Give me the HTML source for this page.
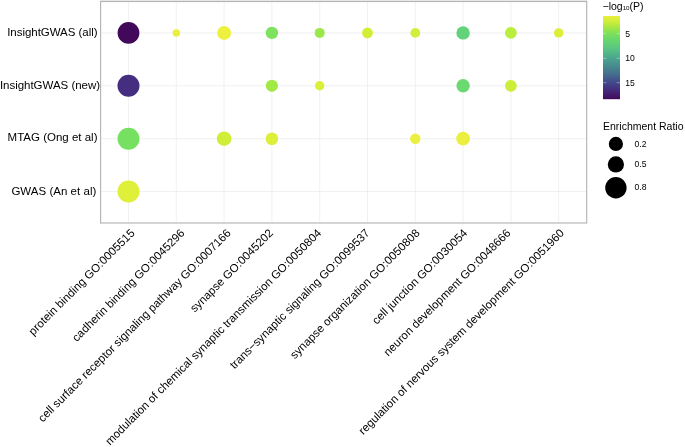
<!DOCTYPE html>
<html lang="en">
<head>
<meta charset="utf-8">
<title>GO enrichment dot plot</title>
<style>
html,body{margin:0;padding:0;background:#fff;}
body{width:685px;height:447px;overflow:hidden;}
svg{display:block;}
text{font-family:"Liberation Sans",Arial,Helvetica,sans-serif;fill:#000;}
.grid line{stroke:#ebebeb;stroke-width:0.7;}
.ylab text{font-size:11.5px;text-anchor:end;}
.xlab text{font-size:11.5px;text-anchor:end;}
.leg text{font-size:8.6px;}
.leg .ttl{font-size:10.5px;}
</style>
</head>
<body>
<svg width="685" height="447" viewBox="0 0 685 447">
<rect x="0" y="0" width="685" height="447" fill="#ffffff"/>
<g class="grid">
<line x1="128.5" y1="1.5" x2="128.5" y2="223.0"/>
<line x1="176.3" y1="1.5" x2="176.3" y2="223.0"/>
<line x1="224.1" y1="1.5" x2="224.1" y2="223.0"/>
<line x1="271.9" y1="1.5" x2="271.9" y2="223.0"/>
<line x1="319.7" y1="1.5" x2="319.7" y2="223.0"/>
<line x1="367.5" y1="1.5" x2="367.5" y2="223.0"/>
<line x1="415.3" y1="1.5" x2="415.3" y2="223.0"/>
<line x1="463.1" y1="1.5" x2="463.1" y2="223.0"/>
<line x1="510.9" y1="1.5" x2="510.9" y2="223.0"/>
<line x1="558.7" y1="1.5" x2="558.7" y2="223.0"/>
<line x1="100.6" y1="32.9" x2="586.7" y2="32.9"/>
<line x1="100.6" y1="85.8" x2="586.7" y2="85.8"/>
<line x1="100.6" y1="138.7" x2="586.7" y2="138.7"/>
<line x1="100.6" y1="191.5" x2="586.7" y2="191.5"/>
</g>
<rect x="100.6" y="1.5" width="486.1" height="221.5" fill="none" stroke="#b4b4b4" stroke-width="1.15"/>
<rect x="100.1" y="0" width="487.1" height="1" fill="#e6e6e6"/>
<g class="pts">
<circle cx="128.5" cy="32.9" r="10.9" fill="#42085a"/>
<circle cx="176.3" cy="32.9" r="3.7" fill="#eaee3c"/>
<circle cx="224.1" cy="32.9" r="7.0" fill="#eef040"/>
<circle cx="271.9" cy="32.9" r="6.2" fill="#7ce25f"/>
<circle cx="319.7" cy="32.9" r="5.0" fill="#9be84a"/>
<circle cx="367.5" cy="32.9" r="5.4" fill="#d4ee38"/>
<circle cx="415.3" cy="32.9" r="4.9" fill="#d2ee3a"/>
<circle cx="463.1" cy="32.9" r="6.7" fill="#62d37b"/>
<circle cx="510.9" cy="32.9" r="5.9" fill="#b9ee3e"/>
<circle cx="558.7" cy="32.9" r="4.7" fill="#dbee38"/>
<circle cx="128.5" cy="85.8" r="11.0" fill="#452d80"/>
<circle cx="271.9" cy="85.8" r="6.1" fill="#a3e945"/>
<circle cx="319.7" cy="85.8" r="4.7" fill="#dbee38"/>
<circle cx="463.1" cy="85.8" r="6.7" fill="#6bd972"/>
<circle cx="510.9" cy="85.8" r="5.9" fill="#cbee38"/>
<circle cx="128.5" cy="138.7" r="11.0" fill="#76e060"/>
<circle cx="224.1" cy="138.7" r="7.3" fill="#cfee38"/>
<circle cx="271.9" cy="138.7" r="6.3" fill="#dcef3a"/>
<circle cx="415.3" cy="138.7" r="5.2" fill="#ebf040"/>
<circle cx="463.1" cy="138.7" r="6.9" fill="#ebf040"/>
<circle cx="128.5" cy="191.5" r="11.0" fill="#dff03a"/>
</g>
<g class="ylab">
<text x="97.5" y="35.9" textLength="90.3" lengthAdjust="spacing">InsightGWAS (all)</text>
<text x="100.1" y="88.7" textLength="100.2" lengthAdjust="spacing">InsightGWAS (new)</text>
<text x="97.5" y="141.2" textLength="89.9" lengthAdjust="spacing">MTAG (Ong et al)</text>
<text x="96.3" y="194.5" textLength="84.9" lengthAdjust="spacing">GWAS (An et al)</text>
</g>
<g class="xlab">
<text transform="translate(135.4 233.7) rotate(-45)">protein binding GO:0005515</text>
<text transform="translate(185.3 233.7) rotate(-45)">cadherin binding GO:0045296</text>
<text transform="translate(231.6 233.7) rotate(-45)">cell surface receptor signaling pathway GO:0007166</text>
<text transform="translate(273.9 233.7) rotate(-45)">synapse GO:0045202</text>
<text transform="translate(322.0 233.7) rotate(-45)">modulation of chemical synaptic transmission GO:0050804</text>
<text transform="translate(370.3 233.7) rotate(-45)">trans−synaptic signaling GO:0099537</text>
<text transform="translate(420.4 233.7) rotate(-45)">synapse organization GO:0050808</text>
<text transform="translate(468.0 233.7) rotate(-45)">cell junction GO:0030054</text>
<text transform="translate(511.3 233.7) rotate(-45)">neuron development GO:0048666</text>
<text transform="translate(564.8 233.7) rotate(-45)">regulation of nervous system development GO:0051960</text>
</g>
<g class="leg">
<defs><linearGradient id="vir" x1="0" y1="0" x2="0" y2="1">
<stop offset="0.000" stop-color="#e9f03c"/>
<stop offset="0.060" stop-color="#d2ee3a"/>
<stop offset="0.120" stop-color="#b0e940"/>
<stop offset="0.213" stop-color="#7be05a"/>
<stop offset="0.300" stop-color="#66d570"/>
<stop offset="0.400" stop-color="#58c384"/>
<stop offset="0.508" stop-color="#4aa58e"/>
<stop offset="0.600" stop-color="#488b8f"/>
<stop offset="0.700" stop-color="#456e8e"/>
<stop offset="0.802" stop-color="#42478a"/>
<stop offset="0.900" stop-color="#44287a"/>
<stop offset="1.000" stop-color="#42085a"/>
</linearGradient></defs>
<text class="ttl" x="602.5" y="10.1">−log<tspan font-size="6.2px">10</tspan>(P)</text>
<rect x="603" y="16" width="17" height="83.2" fill="url(#vir)"/>
<line x1="603" x2="606.4" y1="33.7" y2="33.7" stroke="#fff" stroke-opacity="0.75" stroke-width="0.5"/>
<line x1="616.6" x2="620" y1="33.7" y2="33.7" stroke="#fff" stroke-opacity="0.75" stroke-width="0.5"/>
<text x="625.2" y="36.6">5</text>
<line x1="603" x2="606.4" y1="58.3" y2="58.3" stroke="#fff" stroke-opacity="0.75" stroke-width="0.5"/>
<line x1="616.6" x2="620" y1="58.3" y2="58.3" stroke="#fff" stroke-opacity="0.75" stroke-width="0.5"/>
<text x="625.2" y="61.1">10</text>
<line x1="603" x2="606.4" y1="82.7" y2="82.7" stroke="#fff" stroke-opacity="0.75" stroke-width="0.5"/>
<line x1="616.6" x2="620" y1="82.7" y2="82.7" stroke="#fff" stroke-opacity="0.75" stroke-width="0.5"/>
<text x="625.2" y="85.5">15</text>
<text class="ttl" x="603" y="129.5">Enrichment Ratio</text>
<circle cx="615.9" cy="143.9" r="7.1" fill="#000"/>
<text x="634.5" y="147.1">0.2</text>
<circle cx="615.9" cy="164.4" r="8.1" fill="#000"/>
<text x="634.5" y="166.5">0.5</text>
<circle cx="615.9" cy="187.7" r="10.7" fill="#000"/>
<text x="634.5" y="190.4">0.8</text>
</g>
</svg>
</body>
</html>
